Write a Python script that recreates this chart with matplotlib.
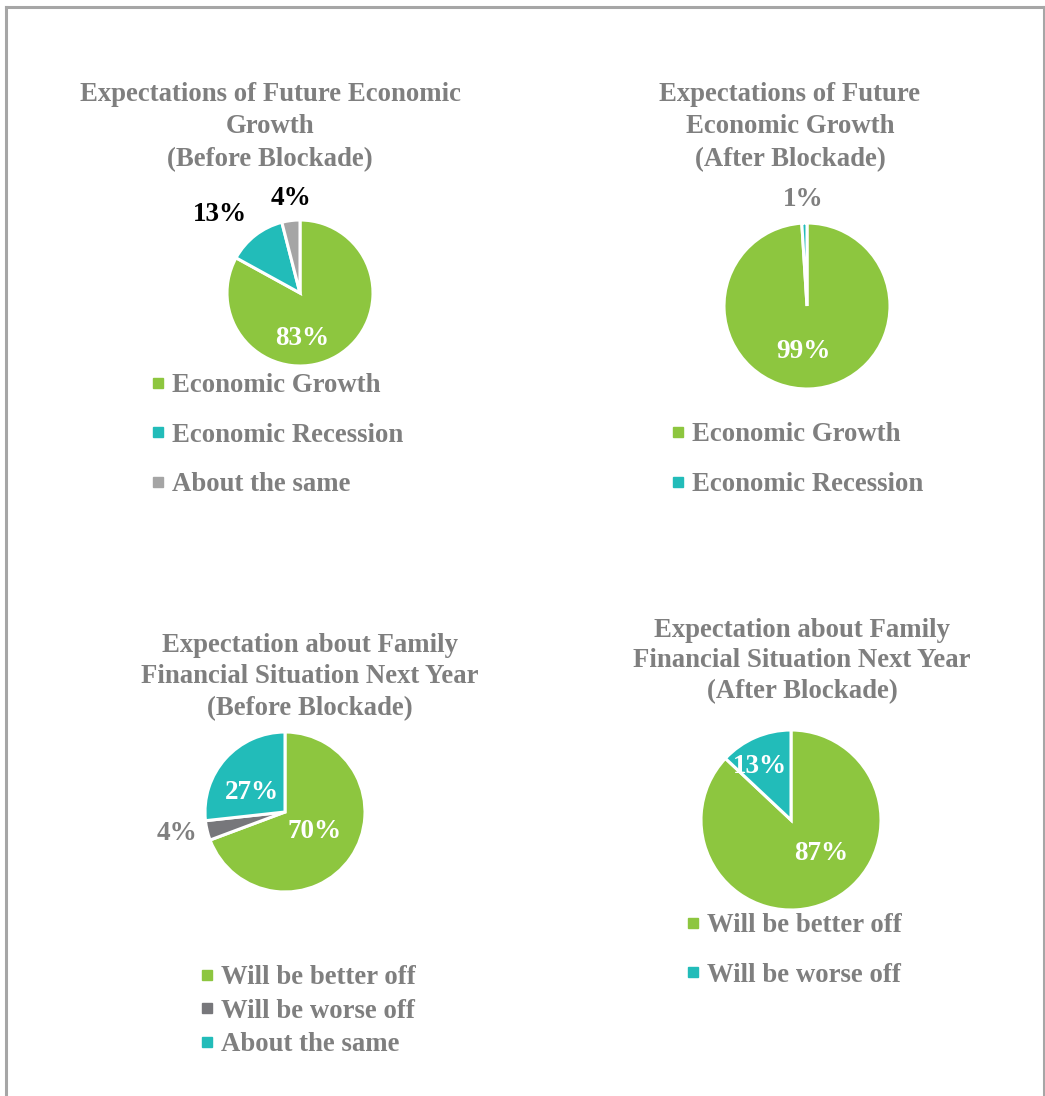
import matplotlib
matplotlib.use("Agg")
import matplotlib.pyplot as plt
from matplotlib.lines import Line2D

plt.rcParams["font.family"] = ["Liberation Serif", "DejaVu Serif"]
plt.rcParams["font.weight"] = "bold"

W, H = 1045, 1096

GREEN = "#8DC63F"
TEAL = "#22BCB9"
LIGHT_GRAY = "#A5A5A5"
DARK_GRAY = "#77777B"
TEXT_GRAY = "#7F7F7F"

# data
growth_before_labels = ["Economic Growth", "Economic Recession", "About the same"]
growth_before_values = [83, 13, 4]
growth_after_labels = ["Economic Growth", "Economic Recession"]
growth_after_values = [99, 1]
family_before_labels = ["Will be better off", "Will be worse off", "About the same"]
family_before_values = [70, 4, 27]
family_after_labels = ["Will be better off", "Will be worse off"]
family_after_values = [87, 13]

charts = [
    dict(title="Expectations of Future Economic\nGrowth\n(Before Blockade)",
         labels=growth_before_labels, values=growth_before_values,
         colors=[GREEN, TEAL, LIGHT_GRAY],
         center=(300, 293), r=73, title_xy=(270, 127), title_ls=1.38,
         pct_pos=[(0.035, -0.63), (-1.09, 1.07), (-0.12, 1.3)],
         pct_col=["white", "black", "black"],
         leg_xy=(153, 373), leg_space=0.92),
    dict(title="Expectations of Future\nEconomic Growth\n(After Blockade)",
         labels=growth_after_labels, values=growth_after_values,
         colors=[GREEN, TEAL],
         center=(807, 306), r=83, title_xy=(790, 127), title_ls=1.38,
         pct_pos=[(-0.04, -0.55), (-0.05, 1.28)],
         pct_col=["white", TEXT_GRAY],
         leg_xy=(673, 422), leg_space=0.94),
    dict(title="Expectation about Family\nFinancial Situation Next Year\n(Before Blockade)",
         labels=family_before_labels, values=family_before_values,
         colors=[GREEN, DARK_GRAY, TEAL],
         center=(285, 812), r=80, title_xy=(310, 677), title_ls=1.36,
         pct_pos=[(0.37, -0.25), (-1.35, -0.27), (-0.41, 0.24)],
         pct_col=["white", TEXT_GRAY, "white"],
         leg_xy=(202, 965), leg_space=0.32),
    dict(title="Expectation about Family\nFinancial Situation Next Year\n(After Blockade)",
         labels=family_after_labels, values=family_after_values,
         colors=[GREEN, TEAL],
         center=(791, 820), r=90, title_xy=(802, 661), title_ls=1.3,
         pct_pos=[(0.33, -0.37), (-0.35, 0.59)],
         pct_col=["white", "white"],
         leg_xy=(688, 913), leg_space=0.92),
]

fig = plt.figure(figsize=(W / 100, H / 100), dpi=100)
fig.patch.set_facecolor("white")

for c in charts:
    cx, cy = c["center"]
    r = c["r"]
    ax = fig.add_axes([(cx - r) / W, 1 - (cy + r) / H, 2 * r / W, 2 * r / H])
    wedges, _ = ax.pie(c["values"], colors=c["colors"], startangle=90,
                       counterclock=False, radius=1,
                       wedgeprops=dict(edgecolor="white", linewidth=2.2))
    ax.set_xlim(-1, 1)
    ax.set_ylim(-1, 1)
    ax.set_aspect("equal")
    ax.axis("off")
    for v, (dx, dy), col in zip(c["values"], c["pct_pos"], c["pct_col"]):
        ax.text(dx, dy, f"{v}%", ha="center", va="center", color=col,
                fontsize=19.5, fontweight="bold", clip_on=False)

    tx, ty = c["title_xy"]
    fig.text(tx / W, 1 - ty / H, c["title"], ha="center", va="center",
             color=TEXT_GRAY, fontsize=19.3, fontweight="bold",
             linespacing=c["title_ls"])

    handles = [Line2D([], [], marker="s", linestyle="none", markersize=6.5,
                      markerfacecolor=col, markeredgecolor=col)
               for col in c["colors"]]
    lx, ly = c["leg_xy"]
    leg = fig.legend(handles, c["labels"], loc="upper left",
                     bbox_to_anchor=(lx / W, 1 - ly / H), frameon=False,
                     borderpad=0, borderaxespad=0, handlelength=0.4,
                     handletextpad=0.3, labelspacing=c["leg_space"],
                     prop=dict(size=19.3, weight="bold"))
    for t in leg.get_texts():
        t.set_color(TEXT_GRAY)

# outer frame
frame = dict(color="#A6A6A6", linewidth=2.2)
fig.add_artist(Line2D([6 / W, 6 / W], [0, 1 - 7 / H], **frame))
fig.add_artist(Line2D([6 / W, 1044 / W], [1 - 7 / H, 1 - 7 / H], **frame))
fig.add_artist(Line2D([1044 / W, 1044 / W], [0, 1 - 7 / H], **frame))

fig.savefig("out.png", dpi=100, facecolor="white")
